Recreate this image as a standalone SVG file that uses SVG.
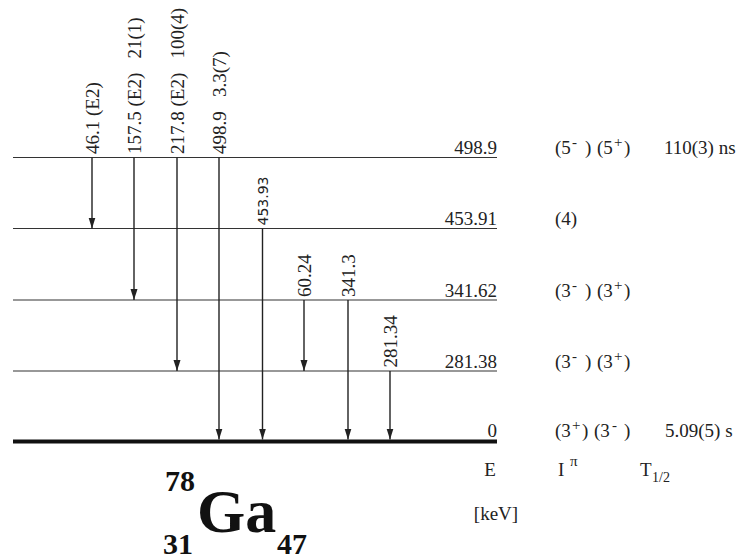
<svg xmlns="http://www.w3.org/2000/svg" width="738" height="559" viewBox="0 0 738 559">
<style>
.t{font-size:19px;fill:#222}
.s{font-family:"DejaVu Sans","Liberation Sans",sans-serif;font-size:14px;fill:#222}
.sup{font-size:15px}
.lvl{stroke:#333;stroke-width:1.2;fill:none}
.gnd{stroke:#111;stroke-width:4;fill:none}
.arr{stroke:#222;stroke-width:1.4;fill:none;marker-end:url(#ah)}
.b{font-weight:bold;fill:#111}
</style>
<defs>
<marker id="ah" markerUnits="userSpaceOnUse" markerWidth="12" markerHeight="8" refX="11" refY="4" orient="auto" viewBox="0 0 12 8">
<path d="M0,0.5 L11,4 L0,7.5 Z" fill="#222"/>
</marker>
</defs>

<g style="font-family:'Liberation Serif','Times New Roman',serif">
<g id="levels">
<g id="level-498.9"><line class="lvl" x1="13" y1="157.5" x2="497" y2="157.5"/><text class="t" x="497" y="154" text-anchor="end">498.9</text>
<text class="t" x="555" y="154">(5<tspan class="sup" x="572" dy="-7">-</tspan><tspan x="585" dy="7">)</tspan><tspan x="597">(5</tspan><tspan class="sup" x="614" dy="-7">+</tspan><tspan x="624" dy="7">)</tspan></text>
<text class="t" x="664" y="154">110(3) ns</text></g>
<g id="level-453.91"><line class="lvl" x1="13" y1="228.5" x2="497" y2="228.5"/><text class="t" x="497" y="225" text-anchor="end">453.91</text>
<text class="t" x="555" y="225">(4)</text></g>
<g id="level-341.62"><line class="lvl" x1="13" y1="300" x2="497" y2="300"/><text class="t" x="497" y="296.5" text-anchor="end">341.62</text>
<text class="t" x="555" y="296.5">(3<tspan class="sup" x="572" dy="-7">-</tspan><tspan x="585" dy="7">)</tspan><tspan x="597">(3</tspan><tspan class="sup" x="614" dy="-7">+</tspan><tspan x="624" dy="7">)</tspan></text></g>
<g id="level-281.38"><line class="lvl" x1="13" y1="371" x2="497" y2="371"/><text class="t" x="497" y="367.5" text-anchor="end">281.38</text>
<text class="t" x="555" y="367.5">(3<tspan class="sup" x="572" dy="-7">-</tspan><tspan x="585" dy="7">)</tspan><tspan x="597">(3</tspan><tspan class="sup" x="614" dy="-7">+</tspan><tspan x="624" dy="7">)</tspan></text></g>
<g id="level-0"><line class="gnd" x1="13" y1="441.5" x2="497" y2="441.5"/><text class="t" x="497" y="437" text-anchor="end">0</text>
<text class="t" x="555" y="437">(3<tspan class="sup" x="572" dy="-7">+</tspan><tspan x="582" dy="7">)</tspan><tspan x="594">(3</tspan><tspan class="sup" x="612" dy="-7">-</tspan><tspan x="624" dy="7">)</tspan></text>
<text class="t" x="665" y="437">5.09(5) s</text></g>
</g>

<g id="connectors">
<line class="arr" x1="92" y1="157.5" x2="92" y2="228.5"/>
<line class="arr" x1="134" y1="157.5" x2="134" y2="300"/>
<line class="arr" x1="177" y1="157.5" x2="177" y2="371"/>
<line class="arr" x1="219" y1="157.5" x2="219" y2="439.5"/>
<line class="arr" x1="262.5" y1="228.5" x2="262.5" y2="439.5"/>
<line class="arr" x1="304" y1="300" x2="304" y2="371"/>
<line class="arr" x1="348" y1="300" x2="348" y2="439.5"/>
<line class="arr" x1="390" y1="371" x2="390" y2="439.5"/>
</g>

<g id="gamma-labels">
<text class="t" transform="translate(99,154) rotate(-90)">46.1 (E2)</text>
<text class="t" transform="translate(141,154) rotate(-90)" xml:space="preserve">157.5 (E2)   21(1)</text>
<text class="t" transform="translate(184,154) rotate(-90)" xml:space="preserve">217.8 (E2)   100(4)</text>
<text class="t" transform="translate(226,154) rotate(-90)" xml:space="preserve">498.9   3.3(7)</text>
<text class="s" transform="translate(268,225.5) rotate(-90)">453.93</text>
<text class="t" transform="translate(311,297) rotate(-90)">60.24</text>
<text class="t" transform="translate(355,297) rotate(-90)">341.3</text>
<text class="t" transform="translate(397,367.5) rotate(-90)">281.34</text>
</g>

<g id="axis-labels">
<text class="t" x="490" y="476" text-anchor="middle">E</text>
<text class="t" x="496" y="520" text-anchor="middle">[keV]</text>
<text class="t" x="558" y="476">I<tspan class="sup" x="570" dy="-10">π</tspan></text>
<text class="t" x="640" y="476">T<tspan font-size="14" x="652" dy="6">1/2</tspan></text>
</g>

<g id="nuclide">
<text class="b" x="165" y="491" font-size="30">78</text>
<text class="b" x="197" y="532" font-size="62">Ga</text>
<text class="b" x="163" y="554" font-size="30">31</text>
<text class="b" x="277" y="554" font-size="30">47</text>
</g>
</g>
</svg>
